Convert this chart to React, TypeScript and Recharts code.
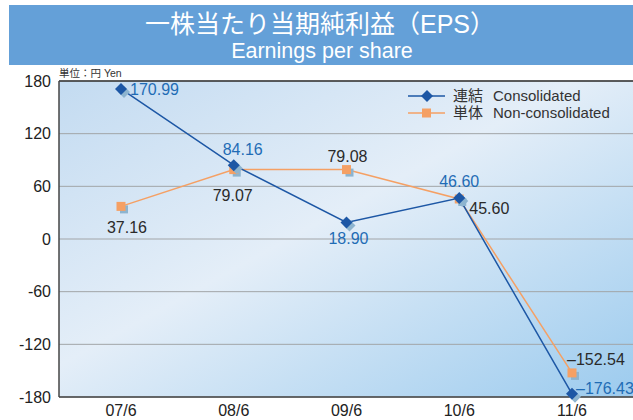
// EPS chart — consolidated vs non-consolidated, FY 07/6 → 11/6

import { LineChart, Line, CartesianGrid, XAxis, YAxis, ReferenceLine, Legend } from 'recharts';

const periods = ['07/6', '08/6', '09/6', '10/6', '11/6'];
const consolidated = [170.99, 84.16, 18.9, 46.6, -176.43];
const nonConsolidated = [37.16, 79.07, 79.08, 45.6, -152.54];
const yTicks = [-180, -120, -60, 0, 60, 120, 180];

const data = periods.map((p, i) => ({ period: p, con: consolidated[i], non: nonConsolidated[i] }));

const BLUE = '#1d57a5';
const BLUE_TEXT = '#1f6cb5';
const ORANGE = '#f5a064';
const SHADOW = '#8db4cf';
const FONT = '"Liberation Sans", Arial, Helvetica, sans-serif';
const JP = '"Liberation Sans", "Noto Sans CJK JP", sans-serif';

// label placement per point: [dx, dy, anchor]
const conPlace: [number, number, string][] = [
  [9, 6, 'start'], [9, -10, 'middle'], [2, 22, 'middle'], [0, -11, 'middle'], [4, 0, 'start'],
];
const nonPlace: [number, number, string][] = [
  [6, 27, 'middle'], [-1, 31, 'middle'], [1, -8, 'middle'], [10, 15, 'start'], [-5, -8, 'start'],
];

const fmt = (v: number) => (v < 0 ? '–' + Math.abs(v).toFixed(2) : v.toFixed(2));

function DiamondDot(props: any) {
  const { cx, cy, index } = props;
  if (cx == null || cy == null) return null;
  const d = (x: number, y: number) => `M${x},${y - 6}L${x + 6},${y}L${x},${y + 6}L${x - 6},${y}Z`;
  return (
    <g key={'cd' + index}>
      <path d={d(cx + 3, cy + 3)} fill={SHADOW} />
      <path d={d(cx, cy)} fill={BLUE} />
    </g>
  );
}

function SquareDot(props: any) {
  const { cx, cy, index } = props;
  if (cx == null || cy == null) return null;
  return (
    <g key={'nd' + index}>
      <rect x={cx - 1} y={cy - 1} width={8} height={8} fill={SHADOW} />
      <rect x={cx - 4.5} y={cy - 4.5} width={9} height={9} fill={ORANGE} />
    </g>
  );
}

function makeLabel(place: [number, number, string][], color: string) {
  return (props: any) => {
    const { x, y, value, index } = props;
    const [dx, dy, anchor] = place[index];
    return (
      <text x={x + dx} y={y + dy} textAnchor={anchor} fill={color} fontSize={16} fontFamily={FONT}>
        {fmt(value)}
      </text>
    );
  };
}

function Overlay() {
  const row = (y: number, marker: any, color: string, jp: string, en: string) => (
    <g>
      <line x1={408} x2={445} y1={y} y2={y} stroke={color} strokeWidth={1.5} />
      {marker}
      <text x={453} y={y + 5} fontSize={15} fill="#333" fontFamily={JP}>{jp}</text>
      <text x={493} y={y + 5} fontSize={15} fill="#333" fontFamily={FONT}>{en}</text>
    </g>
  );
  return (
    <svg width={633} height={420} style={{ position: 'absolute', left: 0, top: 0, pointerEvents: 'none' }}>
      <rect x={9} y={5} width={624} height={60} fill="#64a0d8" />
      <text x={320} y={33} textAnchor="middle" fill="#fff" fontSize={25} fontFamily={JP}>
        一株当たり当期純利益（EPS）
      </text>
      <text x={322} y={58} textAnchor="middle" fill="#fff" fontSize={21.5} fontFamily={FONT}>
        Earnings per share
      </text>
      <text x={59} y={77} fontSize={10.5} fill="#333" fontFamily={JP}>単位：円 Yen</text>
      {row(96, <path d="M427,90L433,96L427,102L421,96Z" fill={BLUE} />, BLUE, '連結', 'Consolidated')}
      {row(113, <rect x={422} y={108.5} width={9} height={9} fill={ORANGE} />, ORANGE, '単体', 'Non-consolidated')}
    </svg>
  );
}

export default function App() {
  return (
    <div style={{ position: 'absolute', left: 0, top: 0, width: 633, height: 420, background: '#fff', overflow: 'hidden' }}>
      <div style={{ position: 'absolute', left: 0, top: 0 }}>
        <LineChart width={633} height={420} data={data} margin={{ top: 81, right: 0, bottom: 0, left: 0 }}>
          <defs>
            <linearGradient id="plotBg" x1="0" y1="0" x2="1" y2="1">
              <stop offset="0" stopColor="#c3dbf1" />
              <stop offset="0.45" stopColor="#e4eef8" />
              <stop offset="1" stopColor="#9ccbee" />
            </linearGradient>
          </defs>
          <CartesianGrid vertical={false} stroke="#a2a5a8" fill="url(#plotBg)" fillOpacity={1} />
          <XAxis
            dataKey="period"
            height={23}
            padding={{ left: 62, right: 61 }}
            tick={{ fontSize: 16, fill: '#222', fontFamily: FONT }}
            tickLine={false}
            axisLine={{ stroke: '#444', strokeWidth: 1.5 }}
            interval={0}
          />
          <YAxis
            width={59}
            domain={[-180, 180]}
            ticks={yTicks}
            tick={{ fontSize: 16, fill: '#222', fontFamily: FONT }}
            tickLine={false}
            axisLine={{ stroke: '#444', strokeWidth: 1.5 }}
            interval={0}
          />
          <ReferenceLine y={180} stroke="#333" strokeWidth={1.5} />
          <Legend content={() => null} />
          <Line
            dataKey="non"
            stroke={ORANGE}
            strokeWidth={1.5}
            dot={<SquareDot />}
            activeDot={false}
            label={makeLabel(nonPlace, '#2a2a2a')}
            isAnimationActive={false}
          />
          <Line
            dataKey="con"
            stroke={BLUE}
            strokeWidth={1.5}
            dot={<DiamondDot />}
            activeDot={false}
            label={makeLabel(conPlace, BLUE_TEXT)}
            isAnimationActive={false}
          />
        </LineChart>
      </div>
      <Overlay />
    </div>
  );
}
